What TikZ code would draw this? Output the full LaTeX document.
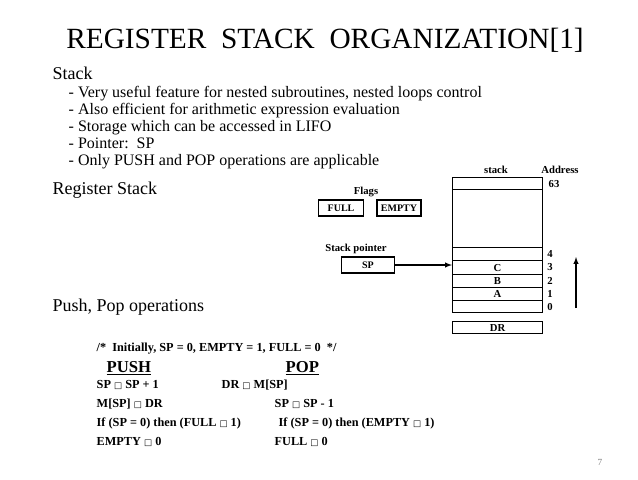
\documentclass[tikz,border=0pt]{standalone}
\usepackage{fontspec}
\setmainfont{Liberation Serif}
\newfontfamily\symfont{DejaVu Sans}
\newcommand{\bx}{{\symfont\scalebox{0.7}{□}}}
\usetikzlibrary{positioning}

\begin{document}
\begin{tikzpicture}[x=0.75pt,y=-0.75pt,
        cell/.style={draw,thick,minimum width=67.5pt,anchor=north west,inner sep=0pt},
        flag/.style={draw,thick,font=\bfseries\fontsize{7.5}{8}\selectfont,inner sep=1.5pt,minimum height=12pt},
        lbl/.style={font=\bfseries\fontsize{8}{9}\selectfont},
        code/.style={anchor=base west,font=\bfseries\fontsize{9.2}{10}\selectfont},
        line/.style={anchor=base west,font=\fontsize{12}{13}\selectfont}]
        \useasboundingbox (0,0) rectangle (638,479);

        \node (title) at (325,40) {\fontsize{22}{24}\selectfont REGISTER\ \ STACK\ \ ORGANIZATION[1]};
        \node[anchor=base west] (stk) at (48,79) {\fontsize{13.5}{14}\selectfont Stack};
        \node[line] (l1) at (64,97) {- Very useful feature for nested subroutines, nested loops control};
        \node[line] (l2) at (64,114) {- Also efficient for arithmetic expression evaluation};
        \node[line] (l3) at (64,131) {- Storage which can be accessed in LIFO};
        \node[line] (l4) at (64,148) {- Pointer:\ \ SP};
        \node[line] (l5) at (64,165) {- Only PUSH and POP operations are applicable};
        \node[anchor=base west] (rs) at (48,194) {\fontsize{13.5}{14}\selectfont Register Stack};
        \node[anchor=base west] (pp) at (48,311) {\fontsize{13.5}{14}\selectfont Push, Pop operations};

        % stack
        \node[cell,minimum height=9pt] (m63) at (452,177) {};
        \node[cell,minimum height=43.5pt] (mid) at (452,189) {};
        \node[cell,minimum height=9.75pt] (m4) at (452,247) {};
        \node[cell,minimum height=10.5pt,lbl] (m3) at (452,260) {C};
        \node[cell,minimum height=9.75pt,lbl] (m2) at (452,274) {B};
        \node[cell,minimum height=9.75pt,lbl] (m1) at (452,287) {A};
        \node[cell,minimum height=9pt] (m0) at (452,300) {};
        \node[cell,minimum height=9pt,lbl] (dr) at (452,321) {DR};
        \node[lbl] (st) at (496,170) {stack};
        \node[lbl] (ad) at (560,170) {Address};
        \node[lbl] (a63) at (554,184) {63};
        \foreach \n/\y in {4/254,3/267,2/281,1/294,0/307}
            \node[lbl] (a\n) at (550,\y) {\n};
        \coordinate (up0) at (576,308);
        \coordinate (up1) at (576,257);
        \draw[thick,-latex] (up0) -- (up1);

        % flags and pointer
        \node[lbl] (fl) at (366,192) {Flags};
        \node[flag,minimum width=34pt] (full) at (341,208) {FULL};
        \node[flag,minimum width=33pt] (empty) at (399,208) {EMPTY};
        \node[lbl] (spl) at (356,249) {Stack pointer};
        \node[flag,minimum width=40pt] (sp) at (368,265) {SP};
        \draw[thick,-latex] (sp.east) -- (sp.east -| m3.west);

        % operations
        \node[code] (c0) at (92,351) {/*\ \ Initially, SP = 0, EMPTY = 1, FULL = 0\ \ */};
        \node[anchor=base west] (push) at (102,372) {\bfseries\fontsize{12.5}{13}\selectfont\underline{PUSH}};
        \node[anchor=base west] (pop) at (281,372) {\bfseries\fontsize{12.5}{13}\selectfont\underline{POP}};
        \node[code] (p1) at (92,388) {SP \bx\ SP + 1};
        \node[code] (p2) at (92,407) {M[SP] \bx\ DR};
        \node[code] (p3) at (92,426) {If (SP = 0) then (FULL \bx\ 1)};
        \node[code] (p4) at (92,445) {EMPTY \bx\ 0};
        \node[code] (q1) at (217,388) {DR \bx\ M[SP]};
        \node[code] (q2) at (270,407) {SP \bx\ SP - 1};
        \node[code] (q3) at (274,426) {If (SP = 0) then (EMPTY \bx\ 1)};
        \node[code] (q4) at (270,445) {FULL \bx\ 0};
        \node[text=gray] (pg) at (600,462) {\fontsize{7}{8}\selectfont 7};
\end{tikzpicture}
\end{document}
